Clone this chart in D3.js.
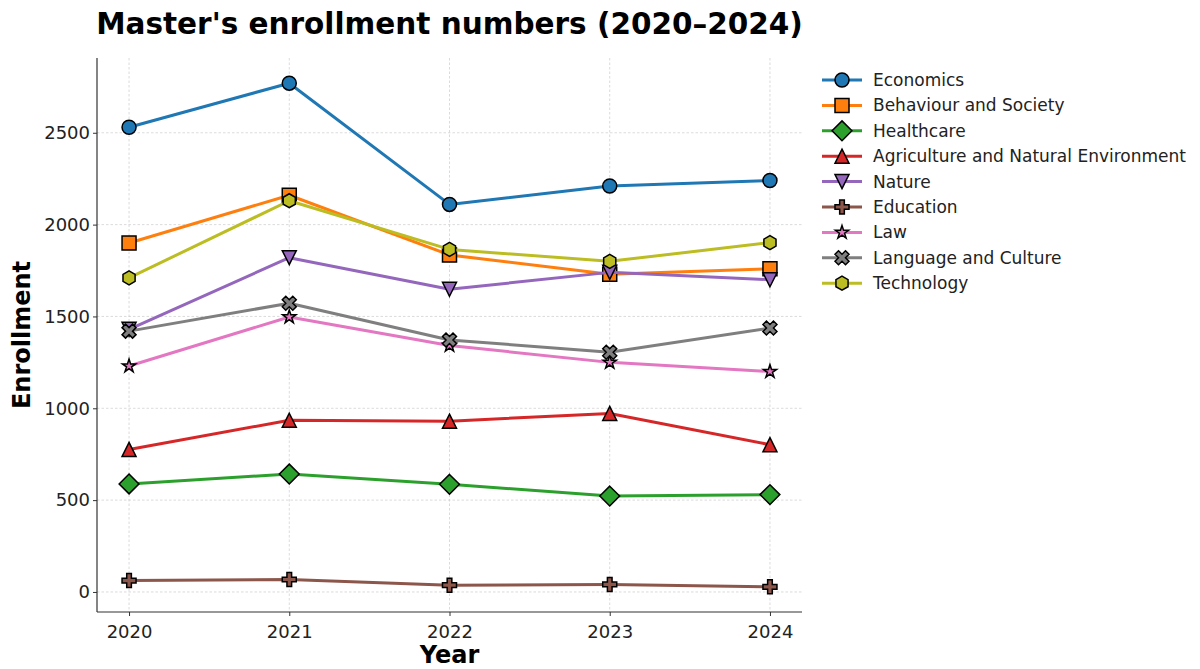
<!DOCTYPE html>
<html>
<head>
<meta charset="utf-8">
<script src="https://cdn.jsdelivr.net/npm/d3@7"></script>
<style>
  body { margin: 0; background: #fff; }
  svg { font-family: "DejaVu Sans", sans-serif; }
</style>
</head>
<body>
<div id="chart"></div>
<script>
const years = [2020, 2021, 2022, 2023, 2024]
const categories = [
  "Economics", "Behaviour and Society", "Healthcare",
  "Agriculture and Natural Environment", "Nature", "Education",
  "Law", "Language and Culture", "Technology"
]
const economics = [2530, 2770, 2110, 2210, 2240]
const behaviour = [1900, 2160, 1835, 1730, 1760]
const healthcare = [588, 642, 586, 522, 530]
const agriculture = [776, 935, 930, 972, 802]
const nature = [1430, 1820, 1648, 1740, 1700]
const education = [62, 68, 37, 41, 28]
const law = [1230, 1497, 1342, 1250, 1200]
const language = [1420, 1572, 1372, 1305, 1437]
const technology = [1710, 2130, 1865, 1800, 1902]
const yTicks = [0, 500, 1000, 1500, 2000, 2500]

const seriesValues = [economics, behaviour, healthcare, agriculture, nature,
                      education, law, language, technology]
const colors = ["#1f77b4", "#ff7f0e", "#2ca02c", "#d62728", "#9467bd",
                "#8c564b", "#e377c2", "#7f7f7f", "#bcbd22"]
const markers = ["circle", "square", "diamond", "triUp", "triDown",
                 "plus", "star", "xfill", "hexagon"]

const W = 1200, H = 669
const MARGIN = { TOP: 58, BOTTOM: 57, LEFT: 97, RIGHT: 398 }
const WIDTH = W - MARGIN.LEFT - MARGIN.RIGHT
const HEIGHT = H - MARGIN.TOP - MARGIN.BOTTOM
const MS = 14 // marker size px

// matplotlib-like marker outlines, centred on 0,0
function markerPath(type, s) {
  const h = s / 2
  const poly = pts => "M" + pts.map(p => p[0].toFixed(2) + "," + p[1].toFixed(2)).join("L") + "Z"
  switch (type) {
    case "circle":
      return d3.symbol(d3.symbolCircle, Math.PI * h * h)()
    case "square":
      return poly([[-h, -h], [h, -h], [h, h], [-h, h]])
    case "diamond": {
      const r = s / Math.SQRT2
      return poly([[0, -r], [r, 0], [0, r], [-r, 0]])
    }
    case "triUp":
      return poly([[0, -h], [h, h], [-h, h]])
    case "triDown":
      return poly([[0, h], [h, -h], [-h, -h]])
    case "plus": {
      const p = [[-1, -3], [1, -3], [1, -1], [3, -1], [3, 1], [1, 1], [1, 3], [-1, 3], [-1, 1], [-3, 1], [-3, -1], [-1, -1]]
      return poly(p.map(d => [d[0] * s / 6, d[1] * s / 6]))
    }
    case "xfill": {
      const p = [[-1, -2], [0, -1], [1, -2], [2, -1], [1, 0], [2, 1], [1, 2], [0, 1], [-1, 2], [-2, 1], [-1, 0], [-2, -1]]
      return poly(p.map(d => [d[0] * s / 4, d[1] * s / 4]))
    }
    case "star": {
      const pts = []
      for (let i = 0; i < 10; i++) {
        const r = i % 2 === 0 ? h : h * 0.381966
        const a = -Math.PI / 2 + i * Math.PI / 5
        pts.push([r * Math.cos(a), r * Math.sin(a)])
      }
      return poly(pts)
    }
    case "hexagon": {
      const pts = []
      for (let i = 0; i < 6; i++) {
        const a = -Math.PI / 2 + i * Math.PI / 3
        pts.push([h * Math.cos(a), h * Math.sin(a)])
      }
      return poly(pts)
    }
  }
}

const svg = d3.select("#chart").append("svg")
  .attr("width", W).attr("height", H)

const g = svg.append("g")
  .attr("transform", `translate(${MARGIN.LEFT}, ${MARGIN.TOP})`)

const allVals = seriesValues.flat()
const yMin = d3.min(allVals), yMax = d3.max(allVals)
const yPad = (yMax - yMin) * 0.05
const y = d3.scaleLinear().domain([yMin - yPad, yMax + yPad]).range([HEIGHT, 0])
const x = d3.scaleLinear().domain([2019.8, 2024.2]).range([0, WIDTH])

// grid
g.append("g").selectAll("line").data(yTicks).join("line")
  .attr("x1", 0).attr("x2", WIDTH)
  .attr("y1", d => y(d)).attr("y2", d => y(d))
  .attr("stroke", "#cccccc").attr("stroke-width", 0.7).attr("stroke-dasharray", "2.5,2")
g.append("g").selectAll("line").data(years).join("line")
  .attr("y1", 0).attr("y2", HEIGHT)
  .attr("x1", d => x(d)).attr("x2", d => x(d))
  .attr("stroke", "#cccccc").attr("stroke-width", 0.7).attr("stroke-dasharray", "2.5,2")

// axes
const xAxis = g.append("g").attr("transform", `translate(0, ${HEIGHT})`)
  .call(d3.axisBottom(x).tickValues(years).tickFormat(d3.format("d")).tickSize(4).tickSizeOuter(0))
const yAxis = g.append("g")
  .call(d3.axisLeft(y).tickValues(yTicks).tickFormat(d3.format("d")).tickSize(4).tickSizeOuter(0))
for (const ax of [xAxis, yAxis]) {
  ax.select(".domain").attr("stroke", "#333").attr("stroke-width", 1.2)
  ax.selectAll(".tick line").attr("stroke", "#333")
  ax.selectAll("text").attr("font-size", 18).attr("fill", "#222")
    .attr("font-family", "DejaVu Sans")
}
xAxis.selectAll("text").attr("dy", "1.05em")
yAxis.select(".domain").attr("d", `M0,0V${HEIGHT}`)
xAxis.select(".domain").attr("d", `M0,0H${WIDTH}`)

// lines + markers
const line = d3.line().x((d, i) => x(years[i])).y(d => y(d))
seriesValues.forEach((vals, k) => {
  g.append("path").datum(vals)
    .attr("d", line)
    .attr("fill", "none")
    .attr("stroke", colors[k])
    .attr("stroke-width", 3)
    .attr("stroke-linejoin", "round")
  g.append("g").selectAll("path").data(vals).join("path")
    .attr("transform", (d, i) => `translate(${x(years[i])}, ${y(d)})`)
    .attr("d", markerPath(markers[k], MS))
    .attr("fill", colors[k])
    .attr("stroke", "#000")
    .attr("stroke-width", 1.5)
    .attr("stroke-linejoin", "miter")
})

// title and labels
svg.append("text")
  .attr("x", MARGIN.LEFT + WIDTH / 2).attr("y", 34)
  .attr("text-anchor", "middle")
  .attr("font-size", 29.5).attr("font-weight", "bold")
  .text("Master's enrollment numbers (2020–2024)")

svg.append("text")
  .attr("x", MARGIN.LEFT + WIDTH / 2).attr("y", 663)
  .attr("text-anchor", "middle")
  .attr("font-size", 24).attr("font-weight", "bold")
  .text("Year")

svg.append("text")
  .attr("transform", `translate(30, ${MARGIN.TOP + HEIGHT / 2}) rotate(-90)`)
  .attr("text-anchor", "middle")
  .attr("font-size", 24).attr("font-weight", "bold")
  .text("Enrollment")

// legend
const legend = svg.append("g").attr("transform", "translate(822, 80)")
const rows = legend.selectAll("g").data(categories).join("g")
  .attr("transform", (d, i) => `translate(0, ${i * 25.4})`)
rows.append("line")
  .attr("x1", 0).attr("x2", 40)
  .attr("stroke", (d, i) => colors[i]).attr("stroke-width", 3)
rows.append("path")
  .attr("transform", "translate(20, 0)")
  .attr("d", (d, i) => markerPath(markers[i], MS))
  .attr("fill", (d, i) => colors[i])
  .attr("stroke", "#000").attr("stroke-width", 1.5)
rows.append("text")
  .attr("x", 51).attr("y", 6)
  .attr("font-size", 17).attr("fill", "#222")
  .text(d => d)
</script>
</body>
</html>
